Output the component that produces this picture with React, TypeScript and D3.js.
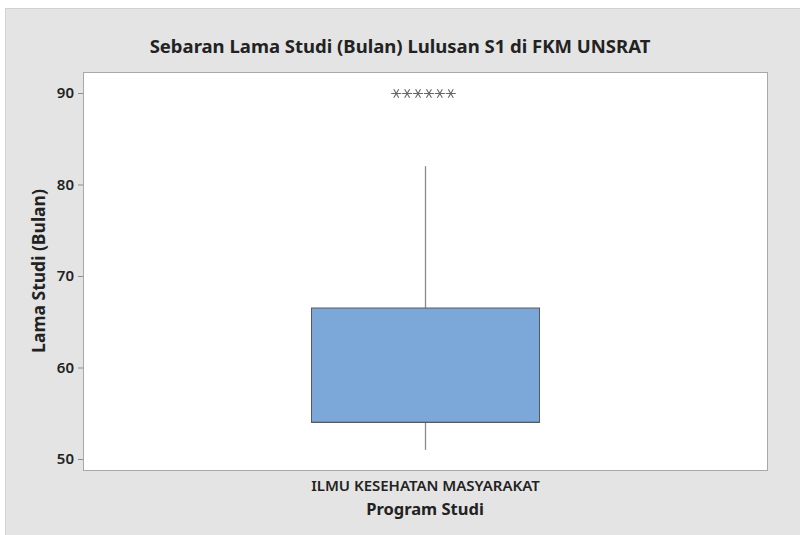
import React, { useEffect, useRef } from 'react';
import * as d3 from 'd3';

// Box plot summary
const categories = ['ILMU KESEHATAN MASYARAKAT'];
const whiskerLow = [51];
const q1 = [54];
const median = [54];
const q3 = [66.5];
const whiskerHigh = [82];
const outliers = [90, 90, 90, 90, 90, 90];
const yTicks = [50, 60, 70, 80, 90];

const W = 800;
const H = 535;

const App = () => {
  const ref = useRef<SVGSVGElement | null>(null);

  useEffect(() => {
    if (!ref.current) return;
    const svg = d3.select(ref.current);
    svg.selectAll('*').remove();

    const font = "'Noto Sans', 'Open Sans', sans-serif";
    const plot = { left: 83, top: 72, right: 767, bottom: 470 };

    // outer panel
    svg
      .append('rect')
      .attr('x', 5.5)
      .attr('y', 8.5)
      .attr('width', W - 5)
      .attr('height', H - 8)
      .attr('fill', '#e4e4e4')
      .attr('stroke', '#d2d2d2');

    // plot area
    svg
      .append('rect')
      .attr('x', plot.left + 0.5)
      .attr('y', plot.top + 0.5)
      .attr('width', plot.right - plot.left)
      .attr('height', plot.bottom - plot.top)
      .attr('fill', '#ffffff')
      .attr('stroke', '#a8a8a8');

    const x = d3
      .scaleBand()
      .domain(categories)
      .range([plot.left, plot.right])
      .paddingInner(0)
      .paddingOuter(0.5);

    const y = d3.scaleLinear().domain([50, 90]).range([459, 93]);

    // y axis
    const yAxis = svg
      .append('g')
      .attr('transform', `translate(${plot.left},0)`)
      .call(d3.axisLeft(y).tickValues(yTicks).tickSize(5).tickPadding(4));
    yAxis.select('.domain').remove();
    yAxis.selectAll('line').attr('stroke', '#8c8c8c');
    yAxis
      .selectAll('text')
      .style('font-family', font)
      .style('font-size', '15px')
      .style('font-weight', '600')
      .attr('fill', '#222');

    // boxes
    const boxW = 228;
    const star = d3.symbol().type(d3.symbolAsterisk).size(70);
    categories.forEach((c, i) => {
      const cx = (x(c) as number) + x.bandwidth() / 2 + 0.5;
      svg
        .append('line')
        .attr('x1', cx)
        .attr('x2', cx)
        .attr('y1', y(q3[i]))
        .attr('y2', y(whiskerHigh[i]))
        .attr('stroke', '#8a8a8a')
        .attr('stroke-width', 1.3);
      svg
        .append('line')
        .attr('x1', cx)
        .attr('x2', cx)
        .attr('y1', y(q1[i]))
        .attr('y2', y(whiskerLow[i]))
        .attr('stroke', '#8a8a8a')
        .attr('stroke-width', 1.3);
      svg
        .append('rect')
        .attr('x', cx - boxW / 2)
        .attr('y', y(q3[i]))
        .attr('width', boxW)
        .attr('height', y(q1[i]) - y(q3[i]))
        .attr('fill', '#7ba7d9')
        .attr('stroke', '#555a60')
        .attr('stroke-width', 1);
      svg
        .append('line')
        .attr('x1', cx - boxW / 2)
        .attr('x2', cx + boxW / 2)
        .attr('y1', y(median[i]))
        .attr('y2', y(median[i]))
        .attr('stroke', '#555a60')
        .attr('stroke-width', 1.3);

      // tied outliers spread sideways
      const step = 10.9;
      outliers.forEach((v, k) => {
        svg
          .append('path')
          .attr('d', star()!)
          .attr(
            'transform',
            `translate(${cx + (k - (outliers.length - 1) / 2) * step - 2},${y(v) + 0.5}) rotate(90)`
          )
          .attr('fill', 'none')
          .attr('stroke', '#666')
          .attr('stroke-width', 1.1);
      });

      svg
        .append('text')
        .attr('x', cx)
        .attr('y', 491)
        .attr('text-anchor', 'middle')
        .style('font-family', font)
        .style('font-size', '15px')
        .style('font-weight', '600')
        .attr('fill', '#222')
        .text(c);
    });

    // titles
    svg
      .append('text')
      .attr('x', 400)
      .attr('y', 53)
      .attr('text-anchor', 'middle')
      .style('font-family', font)
      .style('font-size', '18.5px')
      .style('font-weight', '700')
      .attr('fill', '#222')
      .text('Sebaran Lama Studi (Bulan) Lulusan S1 di FKM UNSRAT');

    svg
      .append('text')
      .attr('x', 425)
      .attr('y', 515)
      .attr('text-anchor', 'middle')
      .style('font-family', font)
      .style('font-size', '16.5px')
      .style('font-weight', '700')
      .attr('fill', '#222')
      .text('Program Studi');

    svg
      .append('text')
      .attr('transform', `translate(45,${(plot.top + plot.bottom) / 2}) rotate(-90)`)
      .attr('text-anchor', 'middle')
      .style('font-family', font)
      .style('font-size', '17.5px')
      .style('font-weight', '700')
      .attr('fill', '#222')
      .text('Lama Studi (Bulan)');
  }, []);

  return (
    <svg
      ref={ref}
      width={W}
      height={H}
      style={{ position: 'absolute', top: 0, left: 0, background: '#fff' }}
    />
  );
};

export default App;
